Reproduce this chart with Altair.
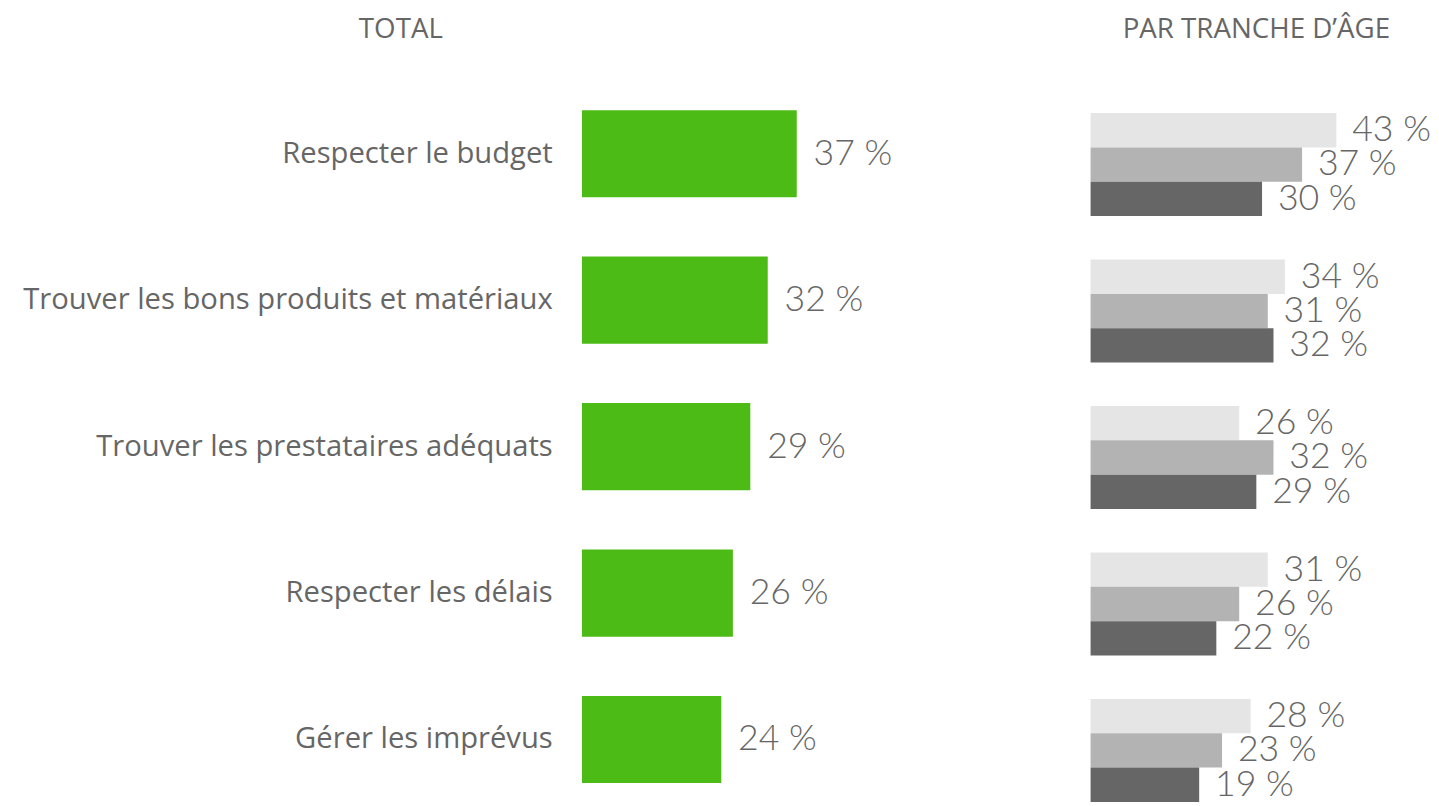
import altair as alt
import pandas as pd

# ---------------- data ----------------
categories = [
    "Respecter le budget",
    "Trouver les bons produits et matériaux",
    "Trouver les prestataires adéquats",
    "Respecter les délais",
    "Gérer les imprévus",
]
total_values = [37, 32, 29, 26, 24]

age_groups = ["Tranche 1", "Tranche 2", "Tranche 3"]
age_values_1 = [43, 34, 26, 31, 28]
age_values_2 = [37, 31, 32, 26, 23]
age_values_3 = [30, 32, 29, 22, 19]

age_colors = ["#e5e5e5", "#b3b3b3", "#666666"]
green = "#4dbb16"
text_color = "#666666"
font = "Lato"
label_font = "Open Sans"

total_df = pd.DataFrame({"cat": categories, "value": total_values})
total_df["label"] = total_df["value"].astype(str) + " %"

rows = []
for g, vals in zip(age_groups, [age_values_1, age_values_2, age_values_3]):
    for c, v in zip(categories, vals):
        rows.append({"cat": c, "age": g, "value": v, "label": f"{v} %"})
age_df = pd.DataFrame(rows)

# ---------------- left panel ----------------
y_left = alt.Y(
    "cat:N", sort=categories,
    scale=alt.Scale(paddingInner=0.405, paddingOuter=0.2025, align=0.5),
    axis=alt.Axis(title=None, domain=False, ticks=False, labelPadding=30,
                  labelFontSize=29.5, labelFont=label_font, labelFontWeight=400,
                  labelColor=text_color, labelLimit=700, minExtent=580),
)
x_left = alt.X("value:Q", scale=alt.Scale(domain=[0, 60]), axis=None)

left_bars = alt.Chart(total_df).mark_bar(color=green).encode(x=x_left, y=y_left)
left_text = alt.Chart(total_df).mark_text(
    align="left", baseline="middle", dx=17, fontSize=36, font=font,
    fontWeight=300, color=text_color,
).encode(x=x_left, y=y_left, text="label:N")

left = alt.layer(left_bars, left_text).properties(
    width=352, height=740,
    title=alt.TitleParams("TOTAL", dx=-359, offset=37, anchor="middle"),
)

# ---------------- right panel ----------------
y_right = alt.Y(
    "cat:N", sort=categories,
    scale=alt.Scale(paddingInner=0.297, paddingOuter=0.1485, align=0.75),
    axis=None,
)
yoff = alt.YOffset("age:N", sort=age_groups,
                   scale=alt.Scale(paddingInner=0, paddingOuter=0))
x_right = alt.X("value:Q", scale=alt.Scale(domain=[0, 58]), axis=None)
color = alt.Color("age:N", sort=age_groups,
                  scale=alt.Scale(domain=age_groups, range=age_colors), legend=None)

right_bars = alt.Chart(age_df).mark_bar().encode(
    x=x_right, y=y_right, yOffset=yoff, color=color)
right_text = alt.Chart(age_df).mark_text(
    align="left", baseline="middle", dx=16, fontSize=36, font=font,
    fontWeight=300, color=text_color,
).encode(x=x_right, y=y_right, yOffset=yoff, text="label:N")

right = alt.layer(right_bars, right_text).properties(
    width=335, height=740,
    title=alt.TitleParams("PAR TRANCHE D’ÂGE", offset=37, anchor="middle"),
)

chart = (
    alt.hconcat(left, right, spacing=162)
    .resolve_scale(x="independent", y="independent")
    .properties(padding={"top": 4, "left": 0, "right": 0, "bottom": 0})
    .configure_view(stroke=None)
    .configure_title(fontSize=28, font=label_font, fontWeight=400, color=text_color)
)

chart.save("out.html", embed_options={"renderer": "svg", "actions": False})
